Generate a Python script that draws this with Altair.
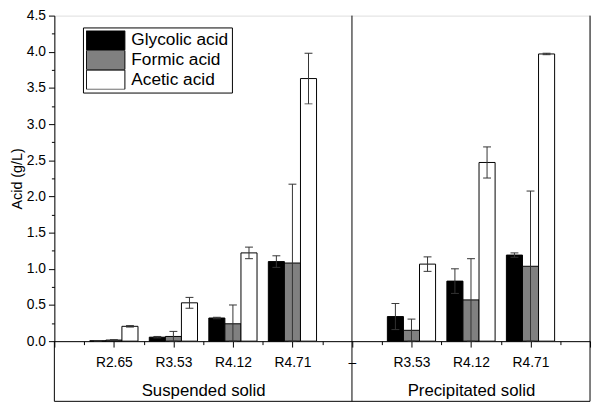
import altair as alt
import pandas as pd

# ---- data ----
samples = ["R2.65", "R3.53", "R4.12", "R4.71", "R3.53", "R4.12", "R4.71"]
slots = [1, 2, 3, 4, 6, 7, 8]
acids = ["Glycolic acid", "Formic acid", "Acetic acid"]
glycolic = [0.005, 0.055, 0.32, 1.10, 0.34, 0.83, 1.19]
glycolic_err = [0.003, 0.01, 0.01, 0.08, 0.18, 0.17, 0.03]
formic = [0.015, 0.065, 0.24, 1.08, 0.15, 0.57, 1.035]
formic_err = [0.005, 0.07, 0.26, 1.09, 0.155, 0.57, 1.04]
acetic = [0.205, 0.53, 1.22, 3.63, 1.065, 2.47, 3.97]
acetic_err = [0.01, 0.075, 0.08, 0.35, 0.10, 0.215, 0.01]
tick_labels = ["", "R2.65", "R3.53", "R4.12", "R4.71", "\u2013", "R3.53", "R4.12", "R4.71", ""]
group_names = ["Suspended solid", "Precipitated solid"]
group_pos = [2.5, 7]
divider_pos = 5
colors = ["#000000", "#808080", "#ffffff"]

FONT = "Liberation Sans"
W, H = 543, 330
BOX = 61
BAR = 0.27

rows = []
for k, (vals, errs) in enumerate([(glycolic, glycolic_err), (formic, formic_err), (acetic, acetic_err)]):
    for i in range(len(samples)):
        c = slots[i] + (k - 1) * BAR
        rows.append({
            "acid": acids[k], "sample": samples[i], "value": vals[i],
            "center": c, "x0": c - BAR / 2, "x1": c + BAR / 2,
            "lo": max(0.0, vals[i] - errs[i]), "hi": vals[i] + errs[i],
        })
df = pd.DataFrame(rows)

xscale = alt.Scale(domain=[0, 9], nice=False, zero=False)
yscale = alt.Scale(domain=[0, 4.5], nice=False)


def ternary(values, labels):
    expr = "''"
    for v, l in reversed(list(zip(values, labels))):
        expr = f"datum.value == {v} ? '{l}' : ({expr})"
    return expr


major_x = alt.Axis(orient="bottom", values=list(range(10)), labelExpr=ternary(list(range(10)), tick_labels),
                   tickSize=6, tickColor="black", domainColor="black", labelFontSize=14, labelColor="black",
                   labelPadding=9, labelOverlap=False, labelFlush=False, grid=False, labelFont=FONT)
minor_x = alt.Axis(orient="bottom", values=[i + 0.5 for i in range(9)], tickSize=3.5, tickColor="black",
                   labels=False, domain=False, grid=False)
group_x = alt.Axis(orient="bottom", values=group_pos, labelExpr=ternary(group_pos, group_names),
                   ticks=False, tickSize=0, domain=False, grid=False, labelFontSize=17, labelColor="black",
                   labelPadding=42, labelOverlap=False, labelFlush=False, labelFont=FONT)
major_y = alt.Axis(orient="left", values=[i * 0.5 for i in range(10)], format=".1f", tickSize=6,
                   tickColor="black", domainColor="black", labelFontSize=14, labelColor="black",
                   labelPadding=3, grid=False, titleFontSize=14.5, titleFontWeight="normal",
                   titleColor="black", titlePadding=2, labelFont=FONT, titleFont=FONT)
minor_y = alt.Axis(orient="left", values=[i * 0.5 + 0.25 for i in range(9)], tickSize=3, tickColor="black",
                   labels=False, domain=False, grid=False)

legend = alt.Legend(orient="none", legendX=29, legendY=12, symbolType="M-1,-0.5H1V0.5H-1Z",
                    symbolSize=1521, clipHeight=20, rowPadding=0, labelFontSize=17.5, labelFont=FONT,
                    labelColor="black", padding=3, strokeColor="black", fillColor="white",
                    symbolStrokeColor="black", symbolStrokeWidth=1, labelOffset=6)

base = alt.Chart(df)

bars = base.mark_bar(stroke="black", strokeWidth=1).encode(
    x=alt.X("x0:Q", scale=xscale, axis=major_x, title=None),
    x2="x1:Q",
    y=alt.Y("value:Q", scale=yscale, axis=major_y, title="Acid (g/L)"),
    y2=alt.datum(0),
    fill=alt.Fill("acid:N", scale=alt.Scale(domain=acids, range=colors), legend=legend, title=None),
)

err = base.mark_rule(color="#333333", strokeWidth=1).encode(
    x=alt.X("center:Q", axis=minor_x, title=None),
    y=alt.Y("lo:Q", axis=minor_y, title=None),
    y2="hi:Q",
)

cap_hi = base.mark_tick(orient="horizontal", size=8, thickness=1, color="#333333", opacity=1).encode(
    x=alt.X("center:Q", axis=group_x, title=None),
    y=alt.Y("hi:Q", axis=None),
)
cap_lo = base.mark_tick(orient="horizontal", size=8, thickness=1, color="#333333", opacity=1).encode(
    x=alt.X("center:Q", axis=None),
    y=alt.Y("lo:Q", axis=None),
)

frame_data = alt.Chart(pd.DataFrame({"d": [0]}))
divider = frame_data.mark_rule(color="black", strokeWidth=1).encode(
    x=alt.X(datum=divider_pos, axis=None), y=alt.value(0), y2=alt.value(H + BOX))
left_edge = frame_data.mark_rule(color="black", strokeWidth=1).encode(
    x=alt.value(0), y=alt.value(H), y2=alt.value(H + BOX))
right_edge = frame_data.mark_rule(color="black", strokeWidth=1).encode(
    x=alt.value(W), y=alt.value(0), y2=alt.value(H + BOX))
bottom_edge = frame_data.mark_rule(color="black", strokeWidth=1).encode(
    x=alt.value(0), x2=alt.value(W), y=alt.value(H + BOX))

chart = alt.layer(bars, err, cap_hi, cap_lo, divider, left_edge, right_edge, bottom_edge).resolve_axis(
    x="independent", y="independent"
).properties(
    width=W, height=H,
    autosize=alt.AutoSizeParams(type="none"),
    padding={"left": 47, "top": 5, "right": 2, "bottom": 62},
).configure_view(stroke="black", strokeWidth=1).configure(font=FONT, background="white")

chart.save("out.html", embed_options={"renderer": "svg", "actions": False})
